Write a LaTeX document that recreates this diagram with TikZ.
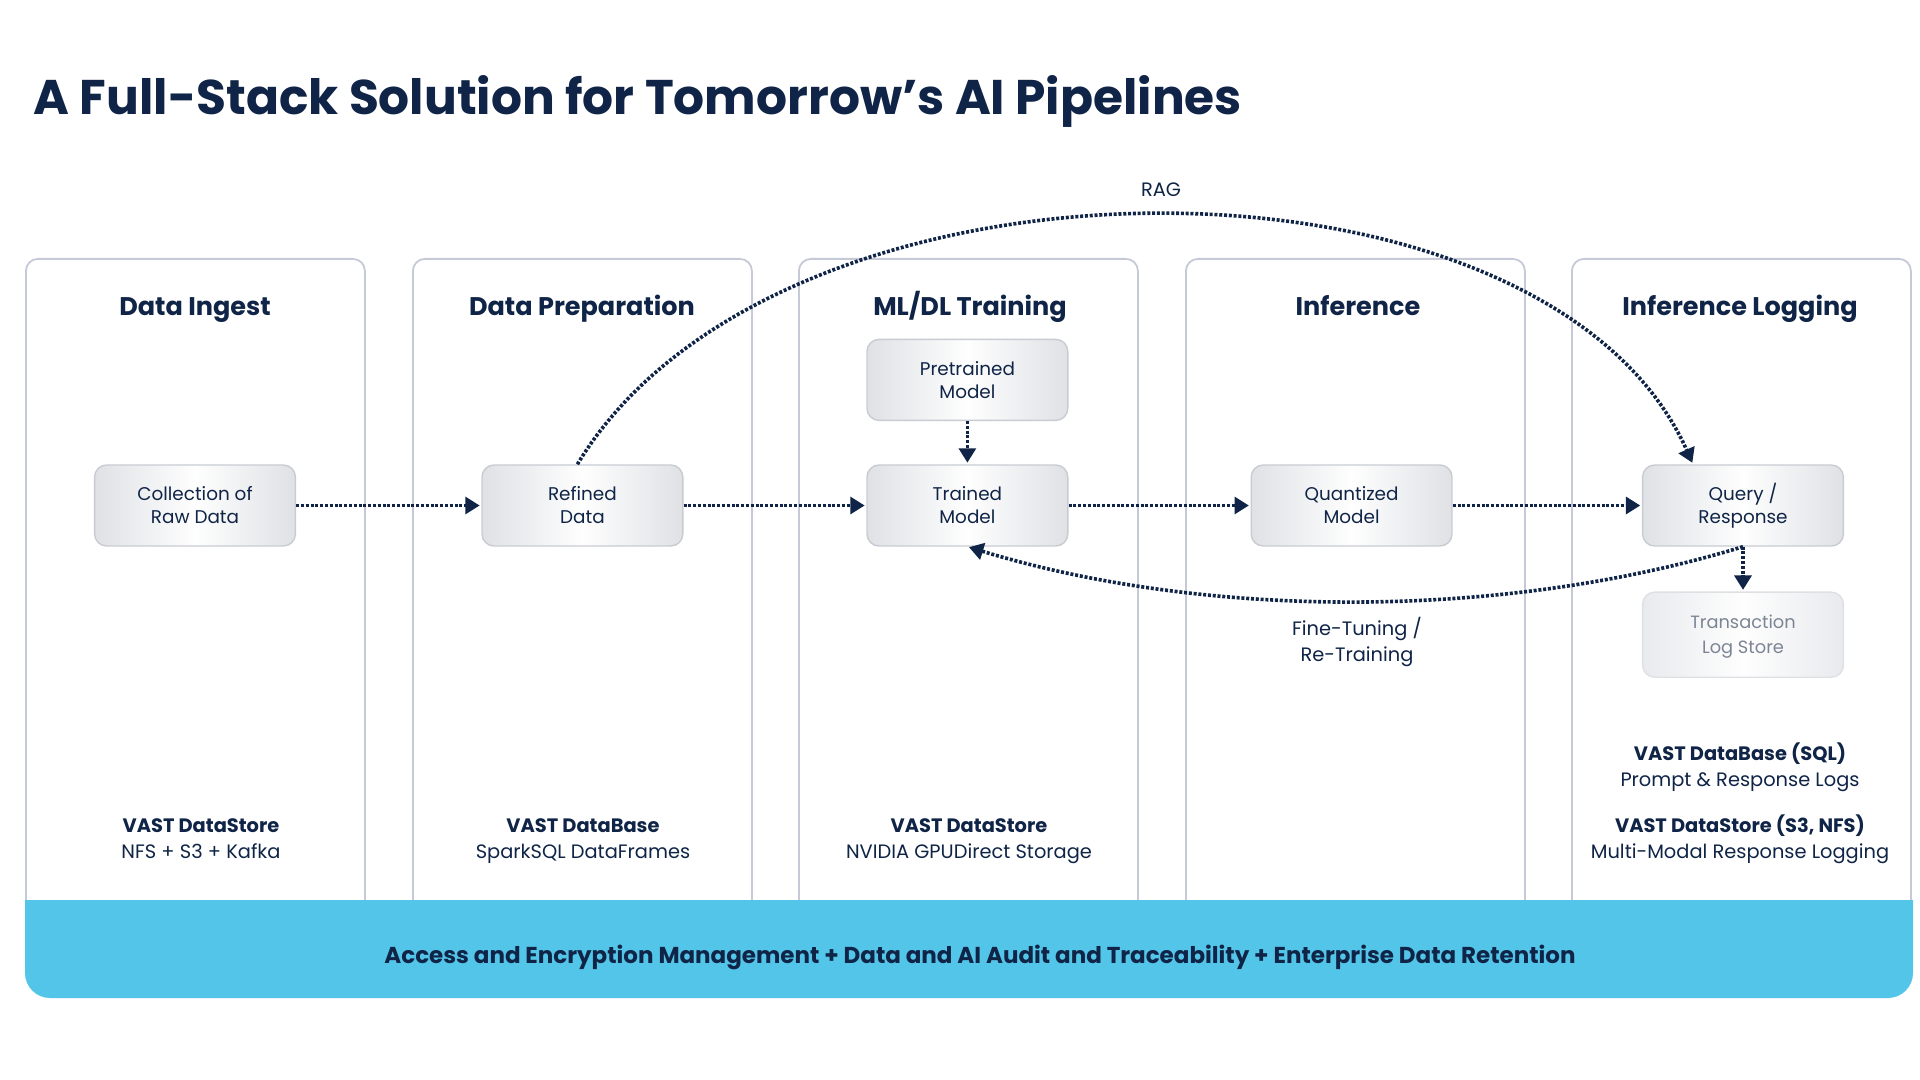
\documentclass[tikz,border=0pt]{standalone}
\usepackage{fontspec}
\setmainfont{Poppins}
\usetikzlibrary{arrows.meta, positioning}

\definecolor{navy}{HTML}{0F2446}
\definecolor{panelline}{HTML}{C6C9D7}
\definecolor{boxline}{HTML}{C8CCD2}
\definecolor{boxside}{HTML}{DFE1E5}
\definecolor{bandblue}{HTML}{53C5E8}
\definecolor{fadedtext}{HTML}{7C8595}

\tikzset{
    panel/.style={draw=panelline, line width=0.45pt, rounded corners=3pt,
                  minimum width=84.75pt, minimum height=166.75pt, anchor=north west},
    heading/.style={text=navy, text height=5pt, text depth=1.5pt,
                    font=\fontsize{6.38}{7.5}\selectfont\bfseries},
    stage/.style={rounded corners=3pt, draw=boxline, line width=0.35pt,
                  left color=boxside, right color=boxside, middle color=white!97!boxside,
                  minimum width=50.2pt, minimum height=20.25pt, align=center, text=navy,
                  text height=10.25pt, text depth=1pt,
                  inner sep=0pt, font=\fontsize{4.6}{5.75}\selectfont},
    caption/.style={text=navy, align=center, inner sep=0pt, text height=10.3pt, text depth=1.2pt,
                    font=\fontsize{4.85}{6.5}\selectfont},
    flow/.style={draw=navy, line width=0.9pt, dash pattern=on 0.75pt off 0.45pt,
                 -{Triangle[length=3.6pt,width=4.2pt]}, shorten >=0.4pt}
}

\begin{document}
\begin{tikzpicture}[x=0.25pt, y=0.25pt]

    \useasboundingbox[fill=white] (0,0) rectangle (1920,-1080);

    % Add the title
    \node[anchor=base west,
          inner sep=0pt,
          text=navy,
          font=\fontsize{12.17}{14}\selectfont\bfseries] (title) at (33,-115)
        {A Full-Stack Solution for Tomorrow’s AI Pipelines};

    % Add the panels
    \node[panel] (ingest)   at (25,-258)   {};
    \node[panel] (prep)     at (412,-258)  {};
    \node[panel] (training) at (798,-258)  {};
    \node[panel] (infer)    at (1185,-258) {};
    \node[panel] (logging)  at (1571,-258) {};

    % Add the band across the foot of the panels
    \fill[bandblue]
        (25,-900) -- (1913,-900) -- (1913,-973) arc (0:-90:25) -- (50,-998) arc (-90:-180:25) -- cycle;
    \node[text=navy,
          font=\fontsize{5.75}{7}\selectfont\bfseries] (band) at (980,-957)
        {Access and Encryption Management + Data and AI Audit and Traceability + Enterprise Data Retention};

    % Add the headings
    \node[heading] (h1) at (195,-309)  {Data Ingest};
    \node[heading] (h2) at (582,-309)  {Data Preparation};
    \node[heading] (h3) at (970,-309)  {ML/DL Training};
    \node[heading] (h4) at (1358,-309) {Inference};
    \node[heading] (h5) at (1740,-309) {Inference Logging};

    % Add the stages
    \node[stage] (raw) at (195,-505.5) {Collection of\\Raw Data};
    \node[stage,
          right=46.3pt of raw] (refined) {Refined\\Data};
    \node[stage,
          right=45.7pt of refined] (trained) {Trained\\Model};
    \node[stage,
          right=45.5pt of trained] (quantized) {Quantized\\Model};
    \node[stage,
          right=47.3pt of quantized] (query) {Query /\\Response};
    \node[stage,
          above=10.8pt of trained] (pretrained) {Pretrained\\Model};
    \node[stage,
          below=11.2pt of query,
          minimum height=21.25pt,
          text=fadedtext,
          text height=10.8pt,
          text depth=1.2pt,
          draw=boxline!60,
          left color=boxside!70,
          right color=boxside!70,
          middle color=white!97!boxside,
          font=\fontsize{4.45}{6.4}\selectfont] (logstore) {Transaction\\Log Store};

    % Add the captions
    \node[caption] (c1) at (201,-840) {\textbf{VAST DataStore}\\NFS + S3 + Kafka};
    \node[caption] (c2) at (583,-840) {\textbf{VAST DataBase}\\SparkSQL DataFrames};
    \node[caption] (c3) at (969,-840) {\textbf{VAST DataStore}\\NVIDIA GPUDirect Storage};
    \node[caption] (c4) at (1740,-768) {\textbf{VAST DataBase (SQL)}\\Prompt \& Response Logs};
    \node[caption] (c5) at (1740,-840) {\textbf{VAST DataStore (S3, NFS)}\\Multi-Modal Response Logging};

    % Add the loop labels
    \node[caption, text height=3.8pt] (rag) at (1161,-191) {RAG};
    \node[caption] (tune) at (1357,-643) {Fine-Tuning /\\Re-Training};

    % Connect the stages with arrows
    \draw[flow] (raw)        -- (refined);
    \draw[flow] (refined)    -- (trained);
    \draw[flow] (trained)    -- (quantized);
    \draw[flow] (quantized)  -- (query);
    \draw[flow] (pretrained) -- (trained);
    \draw[flow] (query)      -- (logstore);
    \draw[flow] ([xshift=-1.25pt]refined.north) to[out=59, in=114, out distance=97pt, in distance=91pt] ([xshift=-12.5pt]query.north);
    \draw[flow] (query.south) to[out=197, in=-17, distance=62.5pt] (trained.south);

\end{tikzpicture}
\end{document}
